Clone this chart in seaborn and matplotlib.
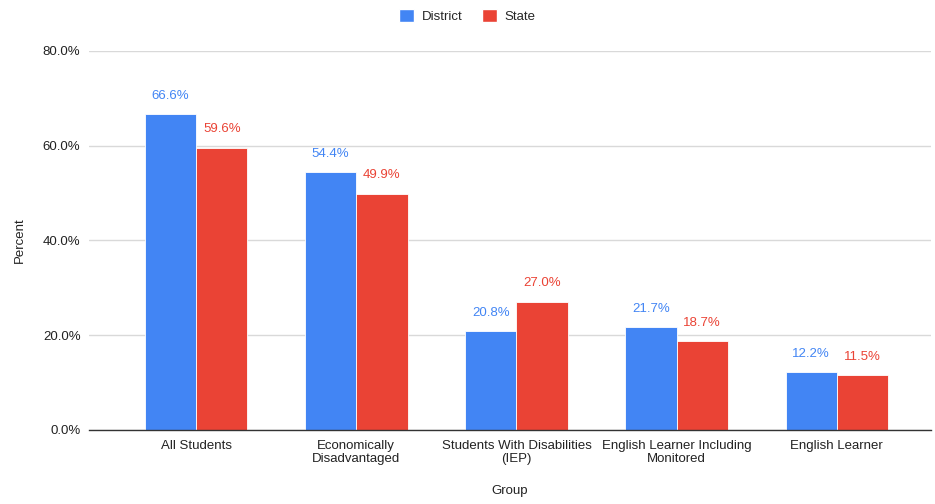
import matplotlib
matplotlib.use("Agg")
import matplotlib.pyplot as plt
import seaborn as sns
import pandas as pd
from matplotlib.ticker import FuncFormatter
from matplotlib.patches import Patch

groups = ["All Students", "Economically\nDisadvantaged", "Students With Disabilities\n(IEP)",
          "English Learner Including\nMonitored", "English Learner"]
district = [66.6, 54.4, 20.8, 21.7, 12.2]
state = [59.6, 49.9, 27.0, 18.7, 11.5]
series = ["District", "State"]
colors = ["#4285F4", "#EA4335"]

df = pd.DataFrame({
    "Group": groups * 2,
    "Percent": district + state,
    "Series": ["District"] * len(groups) + ["State"] * len(groups),
})

sns.set_theme(style="white")
plt.rcParams["font.family"] = ["Liberation Sans", "DejaVu Sans"]

fig = plt.figure(figsize=(9.35, 5.04), dpi=100)
ax = fig.add_axes([0.095, 0.147, 0.901, 0.752])

sns.barplot(data=df, x="Group", y="Percent", hue="Series", palette=colors,
            width=0.64, ax=ax, legend=False, edgecolor="white", linewidth=0.6,
            saturation=1)

for cont, col in zip(ax.containers, colors):
    ax.bar_label(cont, labels=[f"{v:.1f}%" for v in cont.datavalues],
                 padding=9, color=col, fontsize=9.5)

ax.set_ylim(0, 80)
ax.set_xlim(-0.67, 4.59)
ax.set_yticks([0, 20, 40, 60, 80])
ax.yaxis.set_major_formatter(FuncFormatter(lambda v, p: f"{v:.1f}%"))
ax.yaxis.grid(True, color="#d9d9d9", linewidth=1)
ax.set_axisbelow(True)
for s in ["top", "right", "left"]:
    ax.spines[s].set_visible(False)
ax.spines["bottom"].set_color("#333333")
ax.spines["bottom"].set_linewidth(1)
ax.tick_params(axis="both", length=0, labelsize=9.5, colors="#222222")
ax.tick_params(axis="x", pad=7)
ax.tick_params(axis="y", pad=6)
ax.set_xlabel("Group", fontsize=9.5, color="#222222", labelpad=14)
ax.set_ylabel("Percent", fontsize=9.5, color="#222222", labelpad=12)

handles = [Patch(facecolor=c, label=s) for c, s in zip(colors, series)]
fig.legend(handles=handles, loc="upper center", bbox_to_anchor=(0.5, 1.005), ncol=2,
           frameon=False, fontsize=9.5, handlelength=1.1, handleheight=1.1,
           columnspacing=1.5, handletextpad=0.6)

fig.savefig("out.png", dpi=100)
